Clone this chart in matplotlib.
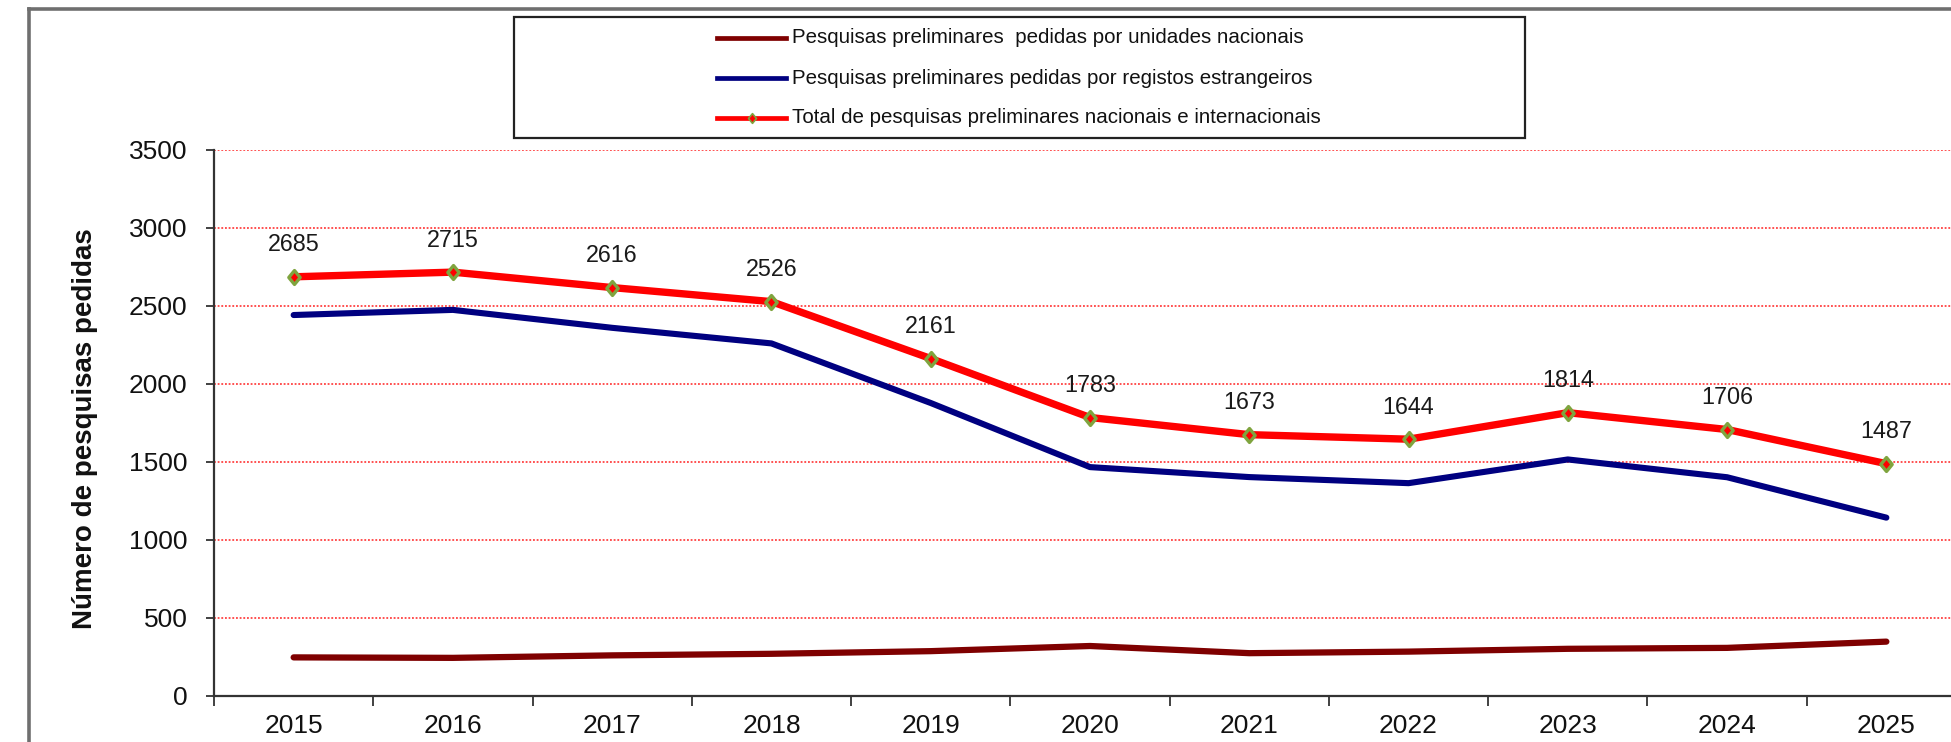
import matplotlib
matplotlib.use("Agg")
import matplotlib.pyplot as plt
from matplotlib.lines import Line2D
from matplotlib.patches import Rectangle
from matplotlib.path import Path

plt.rcParams["font.family"] = ["Liberation Sans", "DejaVu Sans"]

# ---- data ----
years = ["2015", "2016", "2017", "2018", "2019", "2020",
         "2021", "2022", "2023", "2024", "2025"]
nacionais = [245, 242, 258, 268, 285, 318, 272, 282, 300, 306, 346]
estrangeiros = [2440, 2473, 2358, 2258, 1876, 1465, 1401, 1362, 1514, 1400, 1141]
total = [2685, 2715, 2616, 2526, 2161, 1783, 1673, 1644, 1814, 1706, 1487]

labels = [
    "Pesquisas preliminares  pedidas por unidades nacionais",
    "Pesquisas preliminares pedidas por registos estrangeiros",
    "Total de pesquisas preliminares nacionais e internacionais",
]
ylabel = "Número de pesquisas pedidas"
yticks = [0, 500, 1000, 1500, 2000, 2500, 3000, 3500]

C_NAC = "#7f0000"
C_EST = "#000080"
C_TOT = "#ff0000"
C_MRK = "#7fa43e"

# slightly narrow diamond used for the total series
DIAMOND = Path([(0, 1), (0.82, 0), (0, -1), (-0.82, 0), (0, 1)],
               [Path.MOVETO, Path.LINETO, Path.LINETO, Path.LINETO,
                Path.CLOSEPOLY])

W, H = 1951, 742
fig = plt.figure(figsize=(W / 100, H / 100), dpi=100)
fig.patch.set_facecolor("white")

# axes placed in pixel units of the canvas
ax_left, ax_right = 214, 1966
ax_top, ax_bottom = 149.7, 695.6
ax = fig.add_axes([ax_left / W, 1 - ax_bottom / H,
                   (ax_right - ax_left) / W, (ax_bottom - ax_top) / H])
ax.set_facecolor("white")

x = list(range(len(years)))
ax.plot(x, nacionais, color=C_NAC, lw=4.5, solid_capstyle="round",
        solid_joinstyle="round", zorder=3)
ax.plot(x, estrangeiros, color=C_EST, lw=4.4, solid_capstyle="round",
        solid_joinstyle="round", zorder=3)
ax.plot(x, total, color=C_TOT, lw=5.3, solid_capstyle="round",
        solid_joinstyle="round", zorder=4,
        marker=DIAMOND, markersize=10, markerfacecolor=C_TOT,
        markeredgecolor=C_MRK, markeredgewidth=2.4)

for xi, v in zip(x, total):
    ax.annotate(str(v), (xi, v), xytext=(0, 23), textcoords="offset points",
                ha="center", va="center", fontsize=16.8, color="#1a1a1a")

ax.set_xlim(-0.5, len(years) - 0.5)
ax.set_ylim(0, 3500)
ax.set_yticks(yticks)
ax.set_yticklabels([str(t) for t in yticks])
ax.tick_params(axis="y", direction="out", length=6, width=1.3,
               color="#333333", labelsize=19, pad=13, labelcolor="#111111")

# category boundaries carry the tick marks; names sit at the centres
ax.set_xticks([i - 0.5 for i in range(len(years) + 1)])
ax.set_xticklabels([])
ax.set_xticks(x, minor=True)
ax.set_xticklabels(years, minor=True)
ax.tick_params(axis="x", which="major", direction="out", length=7,
               width=1.3, color="#333333")
ax.tick_params(axis="x", which="minor", length=0, labelsize=19, pad=13,
               labelcolor="#111111")

ax.grid(axis="y", color="#ff2020", linestyle=(0, (1.2, 1.2)), lw=1.1, zorder=1)
ax.set_axisbelow(True)
for side in ("top", "right"):
    ax.spines[side].set_visible(False)
for side in ("left", "bottom"):
    ax.spines[side].set_color("#333333")
    ax.spines[side].set_linewidth(1.6)

fig.text(85 / W, 1 - 429 / H, ylabel, rotation=90, ha="center", va="center",
         fontsize=20, fontweight="bold", color="#111111")

# outer chart frame (top and left edges visible)
fig.add_artist(Line2D([29 / W, 29 / W], [1 - 9 / H, -0.05],
                      transform=fig.transFigure, color="#6f6f6f", lw=2.6))
fig.add_artist(Line2D([29 / W, 1.05], [1 - 9 / H, 1 - 9 / H],
                      transform=fig.transFigure, color="#6f6f6f", lw=2.6))

# legend box
lx0, lx1, ly0, ly1 = 514, 1525, 17, 138
fig.add_artist(Rectangle((lx0 / W, 1 - ly1 / H), (lx1 - lx0) / W,
                         (ly1 - ly0) / H, transform=fig.transFigure,
                         facecolor="white", edgecolor="#222222", lw=1.6,
                         zorder=5))
rows = [37.5, 78, 117.5]
colors = [C_NAC, C_EST, C_TOT]
for row, col, lab in zip(rows, colors, labels):
    yy = 1 - row / H
    fig.add_artist(Line2D([717 / W, 786 / W], [yy, yy],
                          transform=fig.transFigure, color=col, lw=3.4,
                          zorder=6))
    fig.text(792 / W, yy, lab, ha="left", va="center", fontsize=14.8,
             color="#111111", zorder=6)
fig.add_artist(Line2D([751.5 / W], [1 - rows[2] / H], transform=fig.transFigure,
                      marker=DIAMOND, markersize=7, markerfacecolor=C_TOT,
                      markeredgecolor=C_MRK, markeredgewidth=1.2, lw=0,
                      zorder=7))

fig.savefig("out.png", dpi=100, facecolor="white")
